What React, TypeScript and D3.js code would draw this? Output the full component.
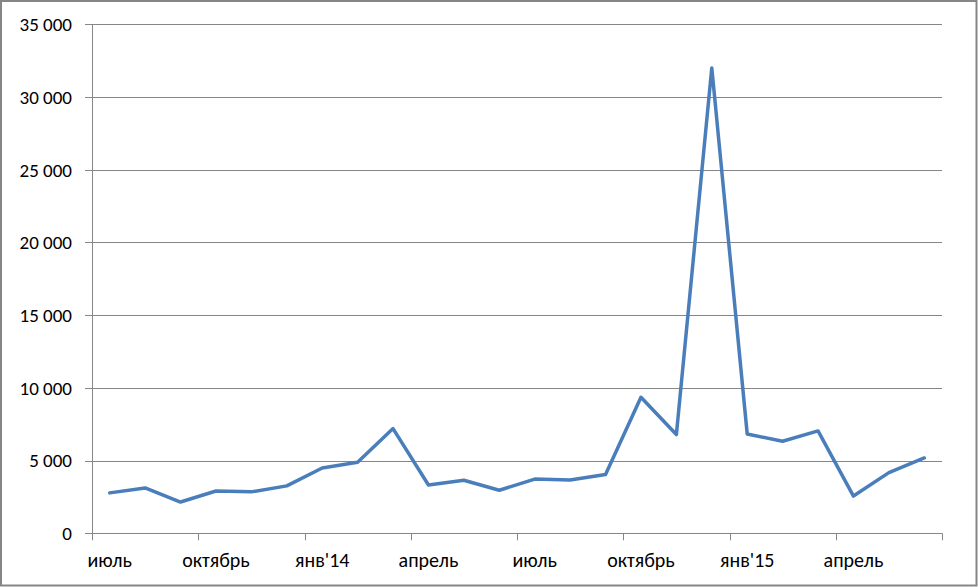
import React from "react";
import * as d3 from "d3";

const months: string[] = [
  "2013-07", "2013-08", "2013-09", "2013-10", "2013-11", "2013-12",
  "2014-01", "2014-02", "2014-03", "2014-04", "2014-05", "2014-06",
  "2014-07", "2014-08", "2014-09", "2014-10", "2014-11", "2014-12",
  "2015-01", "2015-02", "2015-03", "2015-04", "2015-05", "2015-06",
];
const values: number[] = [
  2780, 3120, 2150, 2910, 2850, 3260, 4490, 4880, 7200, 3320, 3650, 2960,
  3730, 3660, 4040, 9350, 6790, 32000, 6830, 6330, 7040, 2560, 4170, 5180,
];
const xTickLabels: string[] = ["июль", "октябрь", "янв'14", "апрель", "июль", "октябрь", "янв'15", "апрель"];
const yTicks: number[] = [0, 5000, 10000, 15000, 20000, 25000, 30000, 35000];

const W = 978;
const H = 587;
const left = 92;
const right = 942;
const top = 24.3;
const bottom = 533.3;
const FONT = "Carlito, Lato, 'Open Sans', sans-serif";

const fmt = (v: number) => (v === 0 ? "0" : d3.format(",")(v).replace(/,/g, "\u00a0"));

export default function App() {
  const x = d3.scaleBand<string>().domain(months).range([left, right]).paddingInner(0).paddingOuter(0);
  const y = d3.scaleLinear().domain([0, 35000]).range([bottom, top]);
  const cx = (m: string) => (x(m) as number) + x.bandwidth() / 2;
  const line = d3
    .line<number>()
    .x((_, i) => cx(months[i]))
    .y((d) => y(d));
  const tickIdx = d3.range(0, months.length + 1, 3);
  const gridColor = "#868686";

  return (
    <div style={{ position: "absolute", left: 0, top: 0 }}>
      <svg width={W} height={H} style={{ display: "block", background: "#fff" }}>
        <rect x={1} y={1} width={W - 2.5} height={H - 2.5} fill="#fff" stroke={gridColor} strokeWidth={2} />
        {yTicks.map((t) => (
          <g key={t}>
            {t > 0 && (
              <line x1={left} x2={right} y1={Math.round(y(t)) + 0.5} y2={Math.round(y(t)) + 0.5} stroke={gridColor} strokeWidth={1} />
            )}
            <line x1={left - 7} x2={left} y1={Math.round(y(t)) + 0.5} y2={Math.round(y(t)) + 0.5} stroke={gridColor} strokeWidth={1} />
            <text
              x={72}
              y={y(t)}
              dy="0.36em"
              textAnchor="end"
              fontFamily={FONT}
              fontSize={19}
              fill="#000"
            >
              {fmt(t)}
            </text>
          </g>
        ))}
        <line x1={left + 0.5} x2={left + 0.5} y1={top} y2={bottom + 1} stroke={gridColor} strokeWidth={1} />
        <line x1={left} x2={right} y1={Math.round(bottom) + 0.5} y2={Math.round(bottom) + 0.5} stroke={gridColor} strokeWidth={1} />
        {tickIdx.map((i) => {
          const xx = i < months.length ? (x(months[i]) as number) : right;
          return (
            <line key={i} x1={Math.round(xx) + 0.5} x2={Math.round(xx) + 0.5} y1={bottom} y2={bottom + 7} stroke={gridColor} strokeWidth={1} />
          );
        })}
        {xTickLabels.map((lab, k) => (
          <text
            key={k}
            x={cx(months[k * 3])}
            y={567}
            textAnchor="middle"
            fontFamily={FONT}
            fontSize={20}
            fill="#000"
          >
            {lab}
          </text>
        ))}
        <path d={line(values) || ""} fill="none" stroke="#4A7EBB" strokeWidth={3.5} strokeLinejoin="round" strokeLinecap="round" />
      </svg>
    </div>
  );
}
